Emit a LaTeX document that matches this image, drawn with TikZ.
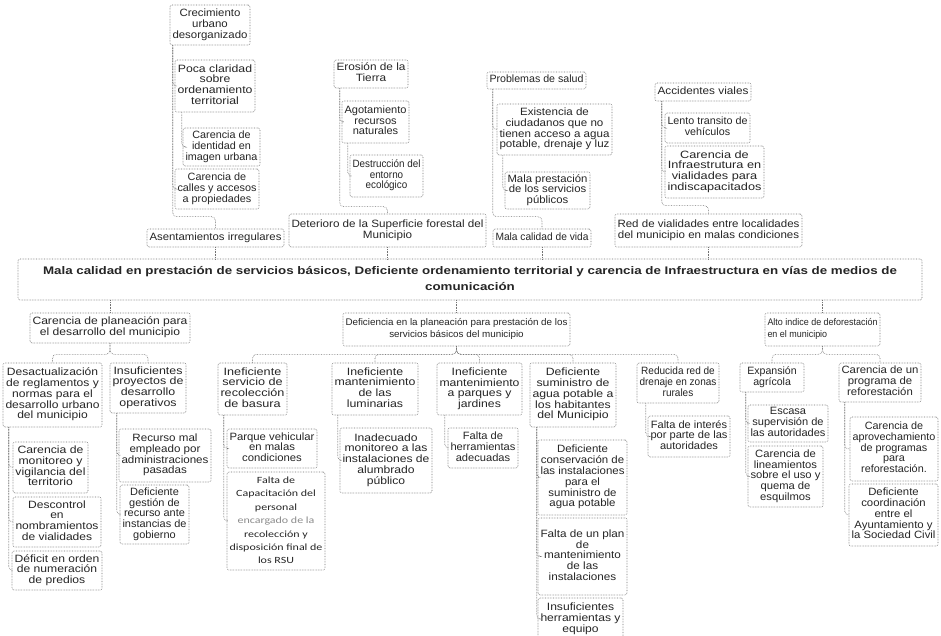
\documentclass[tikz,border=0pt]{standalone}
\usepackage{fontspec}
\usepackage{graphicx}
\setmainfont{Liberation Sans}
\newfontfamily\calib{Carlito}
\newsavebox\mybxbox
\newdimen\mybxlen
\def\basefont{\fontsize{10.6}{10.3}\selectfont}
\def\bxfont{\basefont}
\def\bxpad{5}
\def\bxmax{1.35}
\newcommand\mybox[7][c]{%
  \pgfmathsetmacro\bxw{#5-#3}%
  \pgfmathsetmacro\bxh{#6-#4}%
  \pgfmathsetmacro\bxcx{(#3+#5)/2}%
  \pgfmathsetmacro\bxcy{(#4+#6)/2}%
  \node[bx,minimum width=\bxw pt,minimum height=\bxh pt] (#2) at (\bxcx,\bxcy) {%
    \sbox\mybxbox{\bxfont\begin{tabular}{@{}#1@{}}#7\end{tabular}}%
    \mybxlen=\wd\mybxbox
    \ifdim\mybxlen<1pt \mybxlen=1pt \fi
    \pgfmathsetmacro\bxs{min(\bxmax,(\bxw-\bxpad)/\mybxlen)}%
    \scalebox{\bxs}[1]{\usebox\mybxbox}};%
}
\begin{document}
\begin{tikzpicture}[x=1pt,y=-1pt,
  bx/.style={draw=black!55, densely dotted, line width=0.6pt, rounded corners=2pt, fill=white, inner sep=0.5pt, align=center, text=black!85},
  ln/.style={draw=black!55, densely dotted, line width=0.6pt, rounded corners=4pt}]
\fill[white] (0,0) rectangle (941,636);
\useasboundingbox (0,0) rectangle (941,636);

% ---------- effects (top) ----------
\mybox{cre}{170}{5}{250}{45}{Crecimiento\\urbano\\desorganizado}
\mybox{poca}{175}{60}{255}{112}{Poca claridad\\sobre\\ordenamiento\\territorial}
\mybox{ident}{183}{128}{260}{166}{Carencia de\\identidad en\\imagen urbana}
\mybox{calles}{175}{169}{259}{209}{Carencia de\\calles y accesos\\a propiedades}
\mybox{asent}{147}{229}{284}{247}{Asentamientos irregulares}
\mybox{ero}{334}{60}{408}{88}{Erosión de la\\Tierra}
\mybox{agot}{342}{101}{409}{143}{Agotamiento\\recursos\\naturales}
\mybox{destr}{350}{155}{423}{197}{Destrucción del\\entorno\\ecológico}
\mybox{deter}{289}{214}{486}{247}{Deterioro de la Superficie forestal del\\Municipio}
\mybox{prob}{487}{72}{586}{89}{Problemas de salud}
\mybox{exist}{497}{104}{612}{155}{Existencia de\\ciudadanos que no\\tienen acceso a agua\\potable, drenaje y luz}
\mybox{malap}{505}{172}{590}{209}{Mala prestación\\de los servicios\\públicos}
\mybox{malac}{493}{229}{591}{247}{Mala calidad de vida}
\mybox{acc}{655}{83}{751}{101}{Accidentes viales}
\mybox{lento}{665}{113}{750}{143}{Lento transito de\\vehículos}
\mybox{infra}{665}{146}{764}{198}{Carencia de\\Infraestrutura en\\vialidades para\\indiscapacitados}
\mybox{red}{615}{214}{802}{247}{Red de vialidades entre localidades\\del municipio en malas condiciones}

% ---------- main problem ----------
\def\bxfont{\bfseries\fontsize{11}{15.5}\selectfont}\def\bxpad{50}
\mybox{main}{18}{259}{922}{300}{Mala calidad en prestación de servicios básicos, Deficiente ordenamiento territorial y carencia de Infraestructura en vías de medios de\\comunicación}
\def\bxfont{\basefont}\def\bxpad{5}

% ---------- causes ----------
\mybox{cpl}{30}{313}{190}{343}{Carencia de planeación para\\el desarrollo del municipio}
\def\bxfont{\fontsize{9.6}{12}\selectfont}
\mybox{dpl}{343}{313}{570}{346}{Deficiencia en la planeación para prestación de los\\servicios básicos del municipio}
\mybox[l]{alto}{765}{313}{880}{346}{Alto indice de deforestación\\en el municipio}
\def\bxfont{\basefont}

\mybox{desac}{3}{363}{102}{427}{Desactualización\\de reglamentos y\\normas para el\\desarrollo urbano\\del municipio}
\mybox{monit}{13}{442}{88}{493}{Carencia de\\monitoreo y\\vigilancia del\\territorio}
\mybox{descon}{13}{497}{101}{547}{Descontrol\\en\\nombramientos\\de vialidades}
\mybox{defic}{12}{551}{102}{590}{Déficit en orden\\de numeración\\de predios}
\mybox{insuf}{110}{363}{186}{413}{Insuficientes\\proyectos de\\desarrollo\\operativos}
\mybox{recurso}{119}{429}{211}{482}{Recurso mal\\empleado por\\administraciones\\pasadas}
\mybox{gestion}{120}{485}{189}{544}{Deficiente\\gestión de\\recurso ante\\instancias de\\gobierno}

\mybox{recol}{218}{363}{287}{415}{Ineficiente\\servicio de\\recolección\\de basura}
\mybox{parque}{227}{429}{317}{468}{Parque vehicular\\en malas\\condiciones}
\def\bxfont{\calib\fontsize{9.5}{13.4}\selectfont}
\mybox{faltacap}{227}{472}{325}{570}{Falta de\\Capacitación del\\personal\\{\color{black!45}encargado de la}\\recolección y\\disposición final de\\los RSU}
\def\bxfont{\basefont}
\mybox{lumin}{332}{363}{418}{415}{Ineficiente\\mantenimiento\\de las\\luminarias}
\mybox{inade}{340}{428}{432}{493}{Inadecuado\\monitoreo a las\\instalaciones de\\alumbrado\\público}
\mybox{parq}{437}{363}{522}{415}{Ineficiente\\mantenimiento\\a parques y\\jardines}
\mybox{herr}{448}{428}{518}{468}{Falta de\\herramientas\\adecuadas}
\mybox{sumin}{530}{363}{616}{427}{Deficiente\\suministro de\\agua potable a\\los habitantes\\del Municipio}
\mybox{conserv}{538}{440}{627}{515}{Deficiente\\conservación de\\las instalaciones\\para el\\suministro de\\agua potable}
\mybox{plan}{538}{518}{627}{595}{Falta de un plan\\de\\mantenimiento\\de las\\instalaciones}
\mybox{insufh}{538}{598}{623}{640}{Insuficientes\\herramientas y\\equipo}
\mybox{reduc}{637}{363}{719}{403}{Reducida red de\\drenaje en zonas\\rurales}
\mybox{faltaint}{648}{416}{730}{457}{Falta de interés\\por parte de las\\autoridades}

\def\bxmax{1.0}
\mybox[l]{expan}{740}{363}{804}{392}{Expansión\\\hspace*{6pt}agrícola}
\def\bxmax{1.35}
\mybox{prog}{839}{363}{921}{402}{Carencia de un\\programa de\\reforestación}
\mybox{escasa}{748}{405}{828}{442}{Escasa\\supervisión de\\las autoridades}
\mybox{linea}{748}{446}{823}{507}{Carencia de\\lineamientos\\sobre el uso y\\quema de\\esquilmos}
\mybox{aprov}{850}{417}{938}{481}{Carencia de\\aprovechamiento\\de programas\\para\\reforestación.}
\mybox{coord}{849}{484}{938}{546}{Deficiente\\coordinación\\entre el\\Ayuntamiento y\\la Sociedad Civil}

% ---------- connectors: effects ----------
\draw[ln] ([xshift=3pt]cre.south west) |- (poca.west);
\draw[ln] ([xshift=3pt]cre.south west) |- (calles.west);
\draw[ln] ([xshift=3pt]cre.south west) |- ([yshift=12pt]asent.north) -- (asent.north);
\draw[ln] ([xshift=7pt]poca.south west) |- (ident.west);
\draw[ln] ([xshift=6pt]ero.south west) |- (agot.west);
\draw[ln] ([xshift=6pt]ero.south west) |- ([yshift=7pt]deter.north) -- (deter.north);
\draw[ln] ([xshift=6pt]agot.south west) |- (destr.west);
\draw[ln] ([xshift=6pt]prob.south west) |- (exist.west);
\draw[ln] ([xshift=6pt]prob.south west) |- ([yshift=12pt]malac.north) -- (malac.north);
\draw[ln] ([xshift=6pt]exist.south west) |- (malap.west);
\draw[ln] ([xshift=7pt]acc.south west) |- (lento.west);
\draw[ln] ([xshift=7pt]acc.south west) |- (infra.west);
\draw[ln] ([xshift=7pt]acc.south west) |- ([yshift=8pt]red.north) -- (red.north);
\foreach \n in {asent,deter,malac,red}
  \draw[ln] (\n.south) -- (\n.south |- main.north);

% ---------- connectors: causes ----------
\foreach \n in {cpl,dpl,alto}
  \draw[ln] (\n.north |- main.south) -- (\n.north);
\foreach \c in {desac,insuf}
  \draw[ln] (cpl.south) -- ([yshift=-11pt]cpl.south) -| (\c.north);
\foreach \c in {recol,lumin,parq,sumin,reduc}
  \draw[ln] (dpl.south) -- ([yshift=-8pt]dpl.south) -| (\c.north);
\foreach \c in {expan,prog}
  \draw[ln] (alto.south) -- ([yshift=-8pt]alto.south) -| (\c.north);

\foreach \c in {monit,descon,defic}
  \draw[ln] ([xshift=6pt]desac.south west) |- (\c.west);
\foreach \c in {recurso,gestion}
  \draw[ln] ([xshift=7pt]insuf.south west) |- (\c.west);
\foreach \c in {parque,faltacap}
  \draw[ln] ([xshift=6pt]recol.south west) |- (\c.west);
\draw[ln] ([xshift=6pt]lumin.south west) |- (inade.west);
\draw[ln] ([xshift=8pt]parq.south west) |- (herr.west);
\foreach \c in {conserv,plan,insufh}
  \draw[ln] ([xshift=7pt]sumin.south west) |- (\c.west);
\draw[ln] ([xshift=9pt]reduc.south west) |- (faltaint.west);
\foreach \c in {escasa,linea}
  \draw[ln] ([xshift=6pt]expan.south west) |- (\c.west);
\foreach \c in {aprov,coord}
  \draw[ln] ([xshift=6pt]prog.south west) |- (\c.west);
\end{tikzpicture}
\end{document}
